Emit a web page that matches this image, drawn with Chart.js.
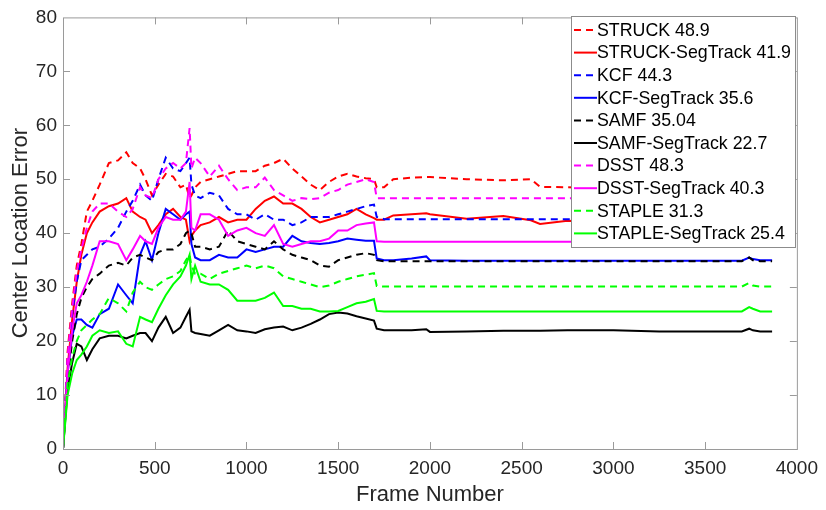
<!DOCTYPE html>
<html>
<head>
<meta charset="utf-8">
<script src="https://cdn.jsdelivr.net/npm/chart.js@4.4.1/dist/chart.umd.min.js"></script>
<style>
  html, body { margin: 0; padding: 0; background: #fff; }
  #wrap { width: 826px; height: 510px; }
</style>
</head>
<body>
<div id="wrap"><canvas id="cle" width="826" height="510"></canvas></div>
<script>
// frame numbers shared by all curves
var frames = [0, 25, 50, 75, 100, 130, 160, 200, 250, 300, 345, 380, 420, 450, 485, 520, 560, 600, 640, 670,
  690, 700, 720, 750, 800, 850, 900, 950, 1000, 1050, 1100, 1150, 1200, 1250, 1300, 1350, 1400, 1450, 1500, 1550,
  1600, 1650, 1695, 1710, 1750, 1800, 1900, 1980, 2000, 2200, 2400, 2550, 2600, 2750, 3000, 3250, 3500, 3700, 3740, 3760,
  3800, 3865];

var struck = [0, 18, 27, 34, 38, 44, 46, 49, 53, 53.5, 55, 53, 52, 50, 47, 49, 51, 50.5, 48.5, 49,
  46.5, 47, 48.5, 49.5, 50, 50.5, 51, 51.5, 51.5, 51.5, 52.5, 53, 53.8, 52, 50.5, 49, 48, 49.5, 50.5, 51,
  50.5, 50.2, 50, 48.5, 48.5, 50, 50.3, 50.4, 50.4, 50, 49.8, 50, 48.6, 48.5, 48.4, 48.4, 48.4, 48.4, 48.5, 48.5,
  48.4, 48.4];
var struckSeg = [0, 15, 24, 31, 36, 40, 42, 44, 45, 45.5, 46.5, 44, 43, 42.5, 40, 41.5, 43.5, 44.5, 43, 42.5,
  38.5, 39.5, 40.5, 41.5, 42, 43, 42, 42.5, 42.5, 44.5, 46, 46.8, 45.5, 45.5, 44.5, 43, 42, 42.5, 43, 43.5,
  44.5, 43.5, 42.8, 42.5, 42.5, 43.3, 43.5, 43.7, 43.5, 42.7, 43.2, 42.4, 41.7, 42.3, 42, 42, 42, 42, 42, 42,
  42, 42];
var kcf = [0, 16, 25, 31, 35, 36, 37, 37.5, 39, 41, 44, 46, 49, 47, 46, 50, 54, 52, 51.5, 53,
  54, 49, 47, 46.5, 47.5, 47, 44.5, 43.5, 43.5, 42.5, 43.5, 42.5, 42.5, 41.5, 42, 43, 43, 43, 43.5, 44,
  44.5, 45, 45.3, 43, 42.6, 42.6, 42.6, 42.6, 42.6, 42.6, 42.6, 42.6, 42.6, 42.6, 42.6, 42.6, 42.6, 42.6, 42.6, 42.6,
  42.6, 42.6];
var kcfSeg = [0, 14, 21, 24, 24, 23, 22.5, 25, 26, 30.5, 28.5, 27, 36, 38.5, 35, 40, 44.5, 43.5, 42.5, 43.5,
  44, 38, 35.5, 35, 35, 36, 35.5, 35.5, 37, 36.5, 37, 37.5, 37.5, 39.5, 38.5, 38.2, 38, 38.2, 38.5, 39,
  38.8, 38.6, 38.6, 35.3, 35, 35, 35.3, 35.7, 35, 34.9, 34.9, 34.9, 34.9, 34.9, 34.9, 34.9, 34.9, 34.9, 35.5, 35.2,
  35, 35];
var samf = [0, 13, 20, 25, 28, 30, 31.5, 32.5, 34, 34.5, 34, 35.5, 36, 35.5, 35, 36.5, 37, 37, 38, 40,
  40.5, 40, 37.5, 37.5, 37, 37.5, 40.5, 38.5, 38, 37.5, 37, 38.5, 37, 36, 35.5, 35, 34, 33.8, 35, 35.5,
  36, 36.3, 36, 35, 34.8, 34.8, 34.8, 34.8, 34.8, 34.8, 34.8, 34.8, 34.8, 34.8, 34.8, 34.8, 34.8, 34.8, 35.5, 35,
  34.8, 34.8];
var samfSeg = [0, 11, 16, 19.5, 19, 16.5, 18.5, 20.5, 21, 21, 20.5, 21, 21.5, 21.5, 20, 22.5, 24.5, 21.5, 22.5, 24.5,
  25.8, 21.8, 21.5, 21.3, 21, 22, 23, 22, 21.8, 21.5, 22.2, 22.5, 22.7, 22, 22.5, 23.2, 24, 25, 25.3, 25.1,
  24.6, 24.2, 23.8, 22.3, 22, 22, 22, 22.2, 21.7, 21.8, 21.9, 21.9, 21.9, 22, 22, 21.8, 21.8, 21.8, 22.3, 22,
  21.8, 21.8];
var dsst = [0, 17, 26, 33, 37, 41, 44, 45.5, 45.5, 44, 43, 44.5, 48.5, 47, 46.5, 50, 52, 53, 52, 53,
  59.5, 52, 54, 53, 50.5, 52.5, 50, 48, 48.5, 48.5, 50.3, 48, 47, 46, 46.5, 46.3, 46.5, 47.5, 48, 49,
  49.5, 50, 49.5, 46.5, 46.5, 46.5, 46.5, 46.5, 46.5, 46.5, 46.5, 46.5, 46.5, 46.5, 46.5, 46.5, 46.5, 46.5, 46.5, 46.5,
  46.5, 46.5];
var dsstSeg = [0, 14, 22, 27, 28.5, 31, 34, 38.5, 38.5, 38, 35, 37, 39.5, 38.5, 38, 41, 43, 42.5, 42.5, 44,
  49.5, 41, 40.5, 43.5, 43.5, 42.5, 39.5, 40.5, 41, 40, 39.5, 41.5, 38, 37.5, 38, 38.5, 38.5, 39, 40.5, 40.5,
  41.5, 41.8, 42, 38.5, 38.4, 38.4, 38.4, 38.4, 38.4, 38.4, 38.4, 38.4, 38.4, 38.4, 38.4, 38.4, 38.4, 38.4, 38.4, 38.4,
  38.4, 38.4];
var staple = [0, 12, 17, 20, 22, 23, 24, 25, 28, 27, 25.5, 29, 31, 30, 29.5, 30.5, 31.5, 32, 33, 35,
  36, 34, 32.5, 32.5, 31.5, 32.5, 33, 33.5, 34, 33.5, 34, 33.5, 32, 31.5, 31, 30.5, 30, 30.3, 31, 31.5,
  32, 32.3, 32.6, 30.2, 30.1, 30.1, 30.1, 30.1, 30.1, 30.1, 30.1, 30.1, 30.1, 30.1, 30.1, 30.1, 30.1, 30.1, 30.8, 30.3,
  30.1, 30.1];
var stapleSeg = [0, 10, 14, 16.5, 17.5, 19, 21, 22, 21.5, 21.8, 19.5, 19, 24.5, 24, 23.5, 26, 28.5, 30.5, 32, 34,
  36, 31.5, 34, 31, 30.5, 30.5, 29.5, 27.5, 27.5, 27.5, 28, 29, 26.5, 26.5, 26, 26, 25.5, 25.5, 25.6, 26.3,
  27, 27.3, 27.8, 25.6, 25.5, 25.5, 25.5, 25.5, 25.5, 25.5, 25.5, 25.5, 25.5, 25.5, 25.5, 25.5, 25.5, 25.5, 26.3, 26,
  25.5, 25.5];

var labels = ['STRUCK 48.9', 'STRUCK-SegTrack 41.9', 'KCF 44.3', 'KCF-SegTrack 35.6', 'SAMF 35.04',
  'SAMF-SegTrack 22.7', 'DSST 48.3', 'DSST-SegTrack 40.3', 'STAPLE 31.3', 'STAPLE-SegTrack 25.4'];
var series = [struck, struckSeg, kcf, kcfSeg, samf, samfSeg, dsst, dsstSeg, staple, stapleSeg];
var colors = ['#ff0000', '#ff0000', '#0000ff', '#0000ff', '#000000', '#000000', '#ff00ff', '#ff00ff', '#00ff00', '#00ff00'];
var dashed = [true, false, true, false, true, false, true, false, true, false];

var font = '"Liberation Sans", Arial, Helvetica, sans-serif';
var dash = [7, 5];

var datasets = series.map(function (vals, i) {
  return {
    label: labels[i],
    data: frames.map(function (f, j) { return { x: f, y: vals[j] }; }),
    borderColor: colors[i],
    backgroundColor: colors[i],
    borderWidth: 2,
    borderDash: dashed[i] ? dash : [],
    pointRadius: 0,
    tension: 0,
    fill: false,
    order: 10 - i
  };
});

// box round the plot, ticks on the inside, legend in the top right corner
var matlabAxes = {
  id: 'matlabAxes',
  afterDatasetsDraw: function (chart) {
    var ctx = chart.ctx, a = chart.chartArea;
    var xs = chart.scales.x, ys = chart.scales.y;
    ctx.save();
    ctx.strokeStyle = '#9a9a9a';
    ctx.lineWidth = 1;
    ctx.strokeRect(a.left + 0.5, a.top + 0.5, a.right - a.left, a.bottom - a.top);
    ctx.beginPath();
    for (var v = 500; v < 4000; v += 500) {
      var px = Math.round(xs.getPixelForValue(v)) + 0.5;
      ctx.moveTo(px, a.bottom); ctx.lineTo(px, a.bottom - 7);
      ctx.moveTo(px, a.top); ctx.lineTo(px, a.top + 7);
    }
    for (var w = 10; w < 80; w += 10) {
      var py = Math.round(ys.getPixelForValue(w)) + 0.5;
      ctx.moveTo(a.left, py); ctx.lineTo(a.left + 7, py);
      ctx.moveTo(a.right, py); ctx.lineTo(a.right - 7, py);
    }
    ctx.stroke();
    ctx.restore();
  },
  afterDraw: function (chart) {
    var ctx = chart.ctx;
    var bx = 571, by = 16, bw = 224, bh = 231, rowH = 22.6;
    ctx.save();
    ctx.fillStyle = '#ffffff';
    ctx.fillRect(bx, by, bw, bh);
    ctx.strokeStyle = '#8c8c8c';
    ctx.lineWidth = 1;
    ctx.strokeRect(bx + 0.5, by + 0.5, bw, bh);
    ctx.font = '17.8px ' + font;
    ctx.textBaseline = 'middle';
    chart.data.datasets.forEach(function (ds, i) {
      var cy = by + 14 + i * rowH;
      ctx.beginPath();
      ctx.strokeStyle = ds.borderColor;
      ctx.lineWidth = 2;
      ctx.setLineDash(ds.borderDash);
      ctx.moveTo(bx + 3, cy);
      ctx.lineTo(bx + 26, cy);
      ctx.stroke();
      ctx.setLineDash([]);
      ctx.fillStyle = '#000000';
      ctx.fillText(ds.label, bx + 26, cy + 1);
    });
    ctx.restore();
  }
};

var chart = new Chart(document.getElementById('cle').getContext('2d'), {
  type: 'line',
  data: { datasets: datasets },
  options: {
    responsive: false,
    animation: false,
    layout: { padding: { left: 0, top: 10, right: 24, bottom: 0 } },
    plugins: { legend: { display: false }, tooltip: { enabled: false } },
    scales: {
      x: {
        type: 'linear',
        min: 0, max: 4000,
        grid: { display: false, drawTicks: false },
        border: { display: false },
        ticks: {
          stepSize: 500, padding: 8, color: '#262626', font: { family: font, size: 19 }, maxRotation: 0,
          callback: function (v) { return String(v); }
        },
        title: { display: true, text: 'Frame Number', color: '#262626', font: { family: font, size: 22 }, padding: { top: 0, bottom: 2 } },
        afterFit: function (s) { s.height = 61; }
      },
      y: {
        min: 0, max: 80,
        grid: { display: false, drawTicks: false },
        border: { display: false },
        ticks: { stepSize: 10, padding: 6, color: '#262626', font: { family: font, size: 19 } },
        title: { display: true, text: 'Center Location Error', color: '#262626', font: { family: font, size: 22 }, padding: { top: 8, bottom: 0 } },
        afterFit: function (s) { s.width = 63; }
      }
    }
  },
  plugins: [matlabAxes]
});
</script>
</body>
</html>
